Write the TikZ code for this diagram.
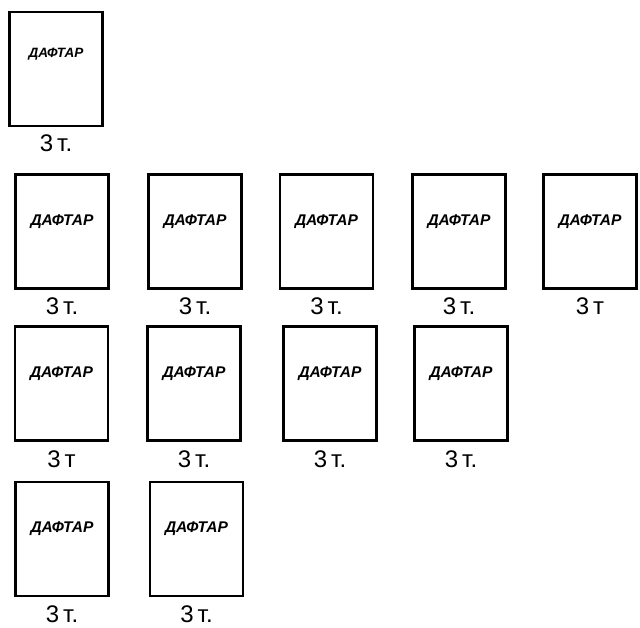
\documentclass[tikz,border=0pt]{standalone}
\usepackage{fontspec}
\setmainfont{Liberation Sans}
\usetikzlibrary{positioning}
\tikzset{
  notebook/.style={draw, line width=2.8pt, minimum width=93pt, minimum height=114pt, inner sep=0pt,
    font=\bfseries\itshape\fontsize{15.5}{15.5}\selectfont, text height=11pt, text depth=24pt},
  price/.style={inner sep=0pt, font=\fontsize{24}{24}\selectfont}
}
\begin{document}
\begin{tikzpicture}[x=1pt, y=-1pt]
  \useasboundingbox (0,0) rectangle (640,627);
  % row 1
  \node[notebook, font=\bfseries\itshape\fontsize{13.5}{13.5}\selectfont, text height=9pt, text depth=32pt] (n1) at (56,69) {ДАФТАР};
  \node[price, below=7pt of n1] (p1) {3\,т.};
  % row 2
  \node[notebook] (n2) at (62,231.5) {ДАФТАР};
  \node[notebook] (n3) at (195,231.5) {ДАФТАР};
  \node[notebook] (n4) at (326.5,231.5) {ДАФТАР};
  \node[notebook] (n5) at (459,231.5) {ДАФТАР};
  \node[notebook] (n6) at (590,231.5) {ДАФТАР};
  \node[price, below=8pt of n2] (p2) {3\,т.};
  \node[price, below=8pt of n3] (p3) {3\,т.};
  \node[price, below=8pt of n4] (p4) {3\,т.};
  \node[price, below=8pt of n5] (p5) {3\,т.};
  \node[price, below=8pt of n6] (p6) {3\,т};
  % row 3
  \node[notebook] (n7) at (61.5,383.5) {ДАФТАР};
  \node[notebook] (n8) at (194,383.5) {ДАФТАР};
  \node[notebook] (n9) at (330,383.5) {ДАФТАР};
  \node[notebook] (n10) at (461,383.5) {ДАФТАР};
  \node[price, below=9pt of n7] (p7) {3\,т};
  \node[price, below=9pt of n8] (p8) {3\,т.};
  \node[price, below=9pt of n9] (p9) {3\,т.};
  \node[price, below=9pt of n10] (p10) {3\,т.};
  % row 4
  \node[notebook] (n11) at (62,539) {ДАФТАР};
  \node[notebook] (n12) at (196.5,539) {ДАФТАР};
  \node[price, below=8pt of n11] (p11) {3\,т.};
  \node[price, below=8pt of n12] (p12) {3\,т.};
\end{tikzpicture}
\end{document}
